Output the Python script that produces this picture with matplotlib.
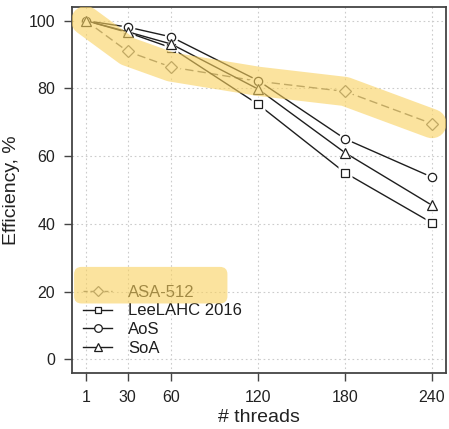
import matplotlib
matplotlib.use("Agg")
import matplotlib.pyplot as plt
from matplotlib.patches import FancyBboxPatch

plt.rcParams["font.family"] = ["Liberation Sans", "DejaVu Sans"]

threads = [1, 30, 60, 120, 180, 240]
asa_512 = [100, 90.9, 86.3, 82.1, 79.1, 69.6]
lee_lahc = [100, 96.5, 92.0, 75.3, 55.1, 40.3]
aos = [100, 98.1, 95.2, 82.3, 65.1, 53.8]
soa = [100, 96.7, 93.1, 79.8, 61.0, 45.5]
y_ticks = [0, 20, 40, 60, 80, 100]

fig = plt.figure(figsize=(4.49, 4.29), dpi=100)
ax = fig.add_axes([0.160, 0.1305, 0.833, 0.853])

series = [
    ("ASA-512", asa_512, "D", "#6e6e6e", (0, (6, 3))),
    ("LeeLAHC 2016", lee_lahc, "s", "#1e1e1e", "-"),
    ("AoS", aos, "o", "#1e1e1e", "-"),
    ("SoA", soa, "^", "#1e1e1e", "-"),
]
ms = {"D": 6.0, "s": 5.5, "o": 6.0, "^": 6.5}
for i, (name, vals, mk, col, ls) in enumerate(series):
    ax.plot(threads, vals, color=col, ls=ls, lw=1.0, zorder=3 + i)
    # white halo so lines stop short of the symbols, as in R type="b"
    ax.plot(threads, vals, ls="none", marker=mk, ms=ms[mk] + 4, mfc="white",
            mec="none", zorder=3 + i)
    ax.plot(threads, vals, ls="none", marker=mk, ms=ms[mk], mfc="white",
            mec=col, mew=0.9, zorder=3 + i)

# proxy handles for the legend
handles = []
for name, vals, mk, col, ls in series:
    h, = ax.plot([], [], color=col, ls=ls if mk != "D" else (0, (3, 2)), lw=1.0,
                 marker=mk, ms=ms[mk] - 0.5, mfc="white", mec=col, mew=0.9, label=name)
    handles.append(h)

# yellow highlight stroke over ASA-512
ax.plot(threads, asa_512, color="#F9D15E", alpha=0.6, lw=21, solid_capstyle="round",
        solid_joinstyle="round", zorder=10)

leg = ax.legend(handles=handles, loc="lower left", bbox_to_anchor=(0.03, 0.047),
                frameon=False, fontsize=12, handlelength=1.75, handletextpad=0.95,
                labelspacing=0.22, borderpad=0, borderaxespad=0)
leg.set_zorder(8)
for t in leg.get_texts():
    t.set_color("#1e1e1e")

box = FancyBboxPatch((0.006, 0.19), 0.41, 0.10, boxstyle="round,pad=0,rounding_size=0.02",
                     transform=ax.transAxes, facecolor="#F9D15E", alpha=0.6,
                     edgecolor="none", zorder=11, clip_on=False)
ax.add_patch(box)

ax.set_xlim(-8.56, 249.56)
ax.set_ylim(-4, 104)
ax.set_xticks(threads)
ax.set_yticks(y_ticks)
ax.grid(True, color="#cccccc", lw=0.8, ls=(0, (1.5, 2.5)))
ax.set_axisbelow(True)
ax.tick_params(direction="out", length=6, width=1.0, color="#444444",
               labelsize=11.5, labelcolor="#222222", pad=6)
for s in ax.spines.values():
    s.set_color("#444444")
    s.set_linewidth(1.3)

ax.set_xlabel("# threads", fontsize=14, color="#222222", labelpad=3)
ax.set_ylabel("Efficiency, %", fontsize=14, color="#222222", labelpad=6)

fig.savefig("out.png", dpi=100)
